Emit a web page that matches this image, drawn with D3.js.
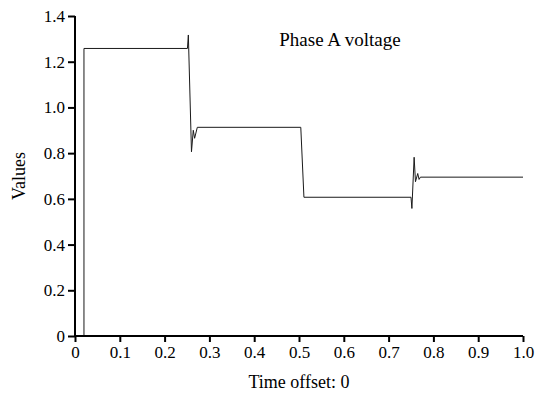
<!DOCTYPE html>
<html>
<head>
<meta charset="utf-8">
<script src="https://cdn.jsdelivr.net/npm/d3@7"></script>
<style>
	body { margin: 0; background: #fff; }
	svg text { font-family: "Liberation Serif", "Times New Roman", serif; fill: #000; }
</style>
</head>
<body>
<div id="graph"></div>
<script>
// readings: time (s) and per-unit voltage
const time = [0, 0.02, 0.02, 0.251, 0.253, 0.260, 0.264, 0.267, 0.273, 0.504, 0.511, 0.750, 0.752, 0.757, 0.760, 0.765, 0.768, 0.771, 1.0];
const voltage = [0, 0, 1.258, 1.258, 1.317, 0.806, 0.900, 0.865, 0.913, 0.913, 0.607, 0.607, 0.558, 0.782, 0.675, 0.711, 0.685, 0.695, 0.695];
const x_ticks = [0, 0.1, 0.2, 0.3, 0.4, 0.5, 0.6, 0.7, 0.8, 0.9, 1.0];
const y_ticks = [0, 0.2, 0.4, 0.6, 0.8, 1.0, 1.2, 1.4];

const params = {
		width: 535,
		height: 399,
		margin: {top: 16, right: 12, bottom: 63, left: 75},
		stroke_color: "#1a1a1a",
		stroke_width: 1
	},
	root_graph = d3.select('#graph');

const x = d3.scaleLinear().domain([0, 1]).range([params.margin.left, params.width - params.margin.right]),
	y = d3.scaleLinear().domain([0, 1.4]).range([params.height - params.margin.bottom, params.margin.top]);

const fmt = d => d === 0 ? "0" : d3.format(".1f")(d);

const svg = root_graph.append("svg")
	.attr("width", params.width)
	.attr("height", params.height);

// the trace
const pts = time.map((t, i) => [t, voltage[i]]);
svg.append("path")
	.datum(pts)
	.attr("fill", "none")
	.attr("stroke", params.stroke_color)
	.attr("stroke-width", params.stroke_width)
	.attr("d", d3.line().x(d => x(d[0])).y(d => y(d[1])));

// axes
const xAxis = svg.append("g")
	.attr("transform", `translate(0,${y(0)})`)
	.call(d3.axisBottom(x).tickValues(x_ticks).tickFormat(fmt).tickSize(6).tickPadding(4));
const yAxis = svg.append("g")
	.attr("transform", `translate(${x(0)},0)`)
	.call(d3.axisLeft(y).tickValues(y_ticks).tickFormat(fmt).tickSize(7).tickPadding(3));

[xAxis, yAxis].forEach(g => {
	g.select(".domain").attr("stroke", "#000").attr("stroke-width", 2);
	g.selectAll(".tick line").attr("stroke", "#000").attr("stroke-width", 2);
	g.selectAll(".tick text").attr("font-size", 17).attr("font-family", null);
});
// remove outer ticks from domain path
xAxis.select(".domain").attr("d", `M${x(0)},0H${x(1)}`);
yAxis.select(".domain").attr("d", `M0,${y(0)}V${y(1.4)}`);

// labels
svg.append("text")
	.attr("x", x(0.5))
	.attr("y", 388)
	.attr("text-anchor", "middle")
	.attr("font-size", 18)
	.text("Time offset: 0");

svg.append("text")
	.attr("transform", `translate(25,${(y(0) + y(1.4)) / 2}) rotate(-90)`)
	.attr("text-anchor", "middle")
	.attr("font-size", 18)
	.text("Values");

svg.append("text")
	.attr("x", 340)
	.attr("y", 46)
	.attr("text-anchor", "middle")
	.attr("font-size", 19)
	.text("Phase A voltage");
</script>
</body>
</html>
